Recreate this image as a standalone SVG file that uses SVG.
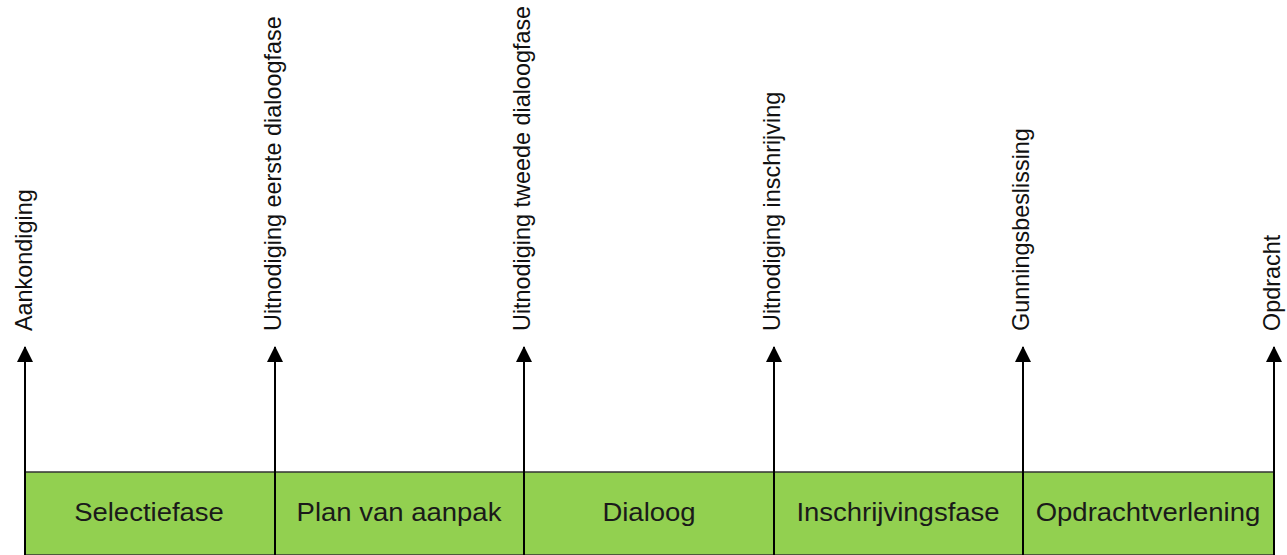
<svg xmlns="http://www.w3.org/2000/svg" width="1287" height="555" viewBox="0 0 1287 555">
<defs>
<marker id="ah" markerWidth="16" markerHeight="16" refX="15" refY="8" orient="auto" markerUnits="userSpaceOnUse" viewBox="0 0 16 16">
<path d="M0,0 L16,8 L0,16 Z" fill="#000"/>
</marker>
<style>
.ph{fill:#92D050;stroke:#333;stroke-width:1.5}
.pl{font-family:"Liberation Sans",Arial,sans-serif;font-size:25px;fill:#1a1a1a;text-anchor:middle}
.ml{font-family:"Liberation Sans",Arial,sans-serif;font-size:23.4px;fill:#111}
.cn{stroke:#000;stroke-width:2;fill:none}
</style>
</defs>
<rect width="1287" height="555" fill="#fff"/>
<g id="phase-selectiefase"><rect class="ph" x="25" y="472" width="250" height="83"/><text class="pl" transform="translate(149,521) scale(1.1,1)">Selectiefase</text></g>
<g id="phase-plan"><rect class="ph" x="275" y="472" width="249" height="83"/><text class="pl" transform="translate(399,521) scale(1.1,1)">Plan van aanpak</text></g>
<g id="phase-dialoog"><rect class="ph" x="524" y="472" width="250" height="83"/><text class="pl" transform="translate(649,521) scale(1.1,1)">Dialoog</text></g>
<g id="phase-inschrijving"><rect class="ph" x="774" y="472" width="249" height="83"/><text class="pl" transform="translate(898,521) scale(1.1,1)">Inschrijvingsfase</text></g>
<g id="phase-opdrachtverlening"><rect class="ph" x="1023" y="472" width="251" height="83"/><text class="pl" transform="translate(1148,521) scale(1.1,1)">Opdrachtverlening</text></g>
<g id="connectors">
<line class="cn" x1="25" y1="555" x2="25" y2="347" marker-end="url(#ah)"/>
<line class="cn" x1="275" y1="555" x2="275" y2="347" marker-end="url(#ah)"/>
<line class="cn" x1="524" y1="555" x2="524" y2="347" marker-end="url(#ah)"/>
<line class="cn" x1="774" y1="555" x2="774" y2="347" marker-end="url(#ah)"/>
<line class="cn" x1="1023" y1="555" x2="1023" y2="347" marker-end="url(#ah)"/>
<line class="cn" x1="1274" y1="555" x2="1274" y2="347" marker-end="url(#ah)"/>
</g>
<g id="milestone-aankondiging"><text class="ml" transform="translate(32,331) rotate(-90)">Aankondiging</text></g>
<g id="milestone-uitnodiging-eerste"><text class="ml" transform="translate(281,331) rotate(-90)">Uitnodiging eerste dialoogfase</text></g>
<g id="milestone-uitnodiging-tweede"><text class="ml" transform="translate(530,331) rotate(-90)">Uitnodiging tweede dialoogfase</text></g>
<g id="milestone-uitnodiging-inschrijving"><text class="ml" transform="translate(780,331) rotate(-90)">Uitnodiging inschrijving</text></g>
<g id="milestone-gunningsbeslissing"><text class="ml" transform="translate(1029,331) rotate(-90)">Gunningsbeslissing</text></g>
<g id="milestone-opdracht"><text class="ml" transform="translate(1280,331) rotate(-90)">Opdracht</text></g>
</svg>
